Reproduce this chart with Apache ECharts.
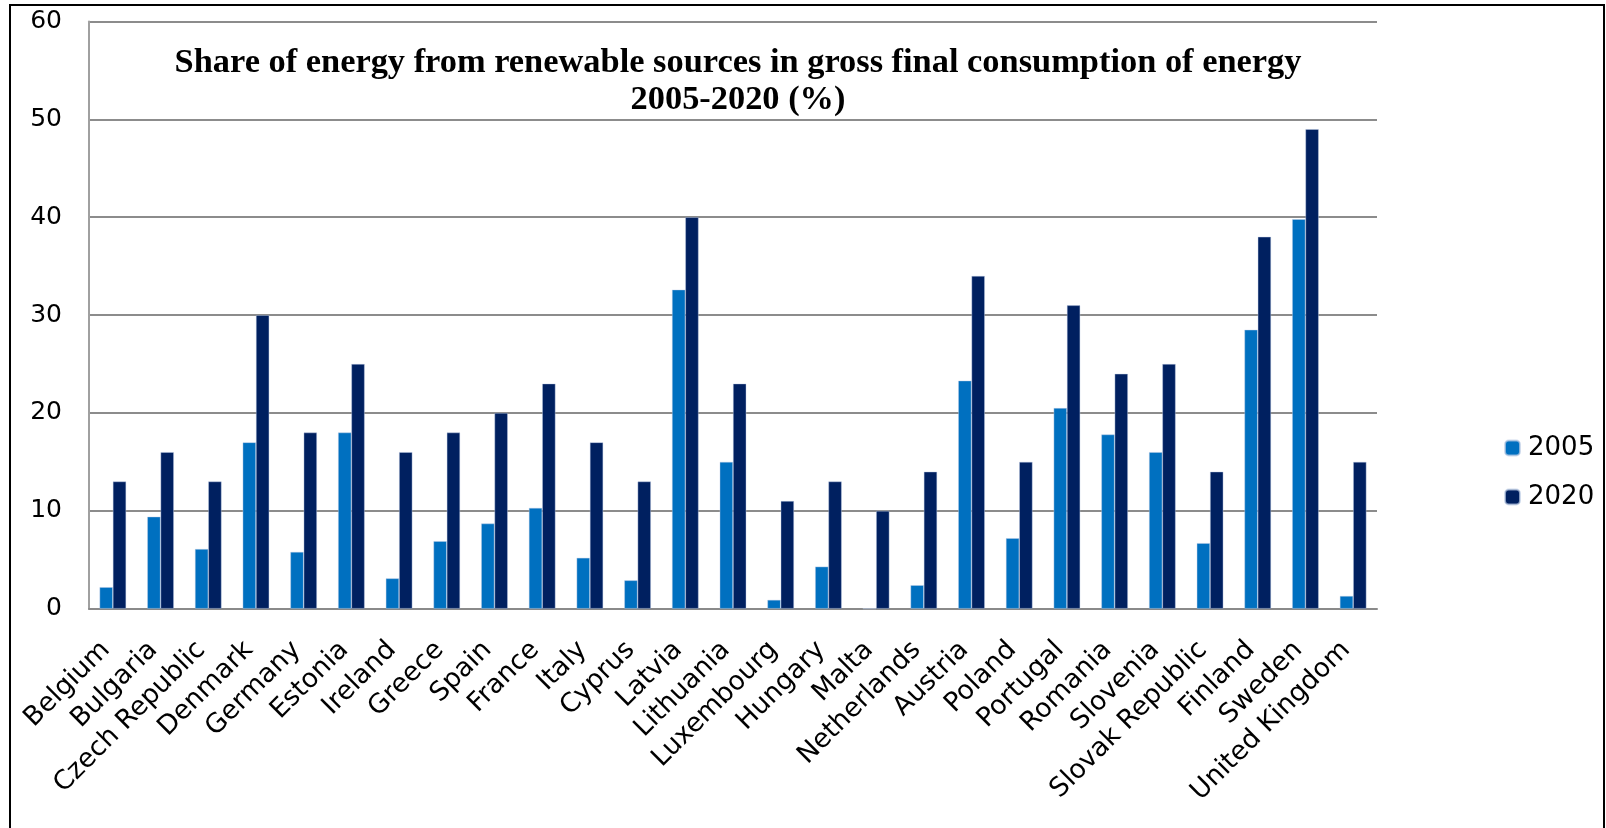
<!DOCTYPE html>
<html>
<head>
<meta charset="utf-8">
<title>Share of energy from renewable sources</title>
<script src="https://cdn.jsdelivr.net/npm/echarts@6/dist/echarts.min.js"></script>
<style>
  html, body { margin: 0; padding: 0; background: #fff; }
  #chart { width: 1606px; height: 828px; }
</style>
</head>
<body>
<div id="chart"></div>
<script>
// countries, in the order of the chart
var countries = ['Belgium', 'Bulgaria', 'Czech Republic', 'Denmark', 'Germany', 'Estonia', 'Ireland',
  'Greece', 'Spain', 'France', 'Italy', 'Cyprus', 'Latvia', 'Lithuania', 'Luxembourg', 'Hungary',
  'Malta', 'Netherlands', 'Austria', 'Poland', 'Portugal', 'Romania', 'Slovenia', 'Slovak Republic',
  'Finland', 'Sweden', 'United Kingdom'];

// share in 2005 (%)
var share2005 = [2.2, 9.4, 6.1, 17.0, 5.8, 18.0, 3.1, 6.9, 8.7, 10.3, 5.2, 2.9, 32.6, 15.0, 0.9, 4.3,
  0, 2.4, 23.3, 7.2, 20.5, 17.8, 16.0, 6.7, 28.5, 39.8, 1.3];

// target for 2020 (%)
var share2020 = [13, 16, 13, 30, 18, 25, 16, 18, 20, 23, 17, 13, 40, 23, 11, 13,
  10, 14, 34, 15, 31, 24, 25, 14, 38, 49, 15];

var seriesNames = ['2005', '2020'];

var chartDom = document.getElementById('chart');
var myChart = echarts.init(chartDom);
var option;

option = {
  animation: false,
  backgroundColor: '#fff',
  title: {
    text: 'Share of energy from renewable sources in gross final consumption of energy\n2005-2020 (%)',
    left: 733,
    top: 39,
    textAlign: 'center',
    textStyle: {
      fontFamily: 'Liberation Serif',
      fontWeight: 'bold',
      fontSize: 34.4,
      lineHeight: 37.4,
      color: '#000'
    }
  },
  legend: {
    orient: 'vertical',
    left: 1499,
    top: 428,
    itemWidth: 15,
    itemHeight: 15,
    itemGap: 19,
    textStyle: {
      fontFamily: 'DejaVu Sans',
      fontSize: 26,
      lineHeight: 30,
      color: '#000',
      padding: [0, 0, 0, 3]
    },
    data: seriesNames
  },
  grid: {
    left: 89,
    right: 229,
    top: 21.5,
    bottom: 219.3
  },
  xAxis: {
    type: 'category',
    data: countries,
    axisLine: { lineStyle: { color: '#8a8a8a', width: 2 } },
    axisTick: { show: false },
    axisLabel: {
      interval: 0,
      rotate: 45,
      margin: 30,
      padding: [0, 10, 0, 0],
      fontFamily: 'DejaVu Sans',
      fontSize: 26.5,
      color: '#000'
    }
  },
  yAxis: {
    type: 'value',
    min: 0,
    max: 60,
    interval: 10,
    axisLine: { show: true, lineStyle: { color: '#a0a0a0', width: 2 } },
    axisTick: { show: false },
    axisLabel: {
      margin: 27,
      fontFamily: 'DejaVu Sans',
      fontSize: 25,
      color: '#000'
    },
    splitLine: { lineStyle: { color: '#8c8c8c', width: 2 } }
  },
  graphic: [
    {
      type: 'rect',
      shape: { x: 10, y: 5, width: 1594, height: 840 },
      style: { fill: null, stroke: '#000', lineWidth: 2 },
      silent: true
    }
  ],
  series: [
    {
      name: seriesNames[0],
      type: 'bar',
      data: share2005,
      barWidth: 13.3,
      barGap: '0%',
      itemStyle: { color: '#0070c0', borderColor: 'rgba(190,205,230,0.7)', borderWidth: 0.6 }
    },
    {
      name: seriesNames[1],
      type: 'bar',
      data: share2020,
      barWidth: 13.3,
      barGap: '0%',
      itemStyle: { color: '#002060', borderColor: 'rgba(190,205,230,0.7)', borderWidth: 0.6 }
    }
  ]
};

option && myChart.setOption(option);
</script>
</body>
</html>
